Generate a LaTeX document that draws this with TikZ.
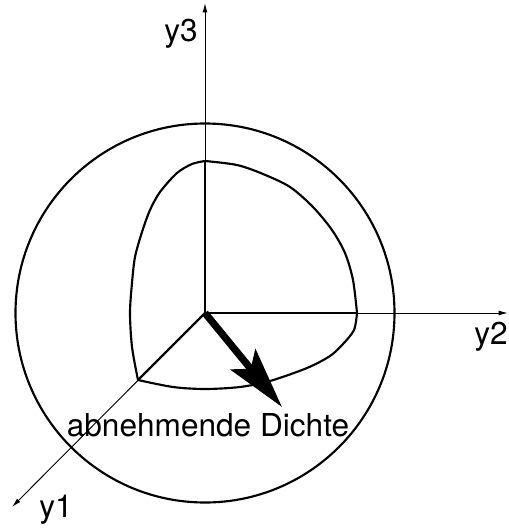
\documentclass[tikz,border=0pt]{standalone}
\usepackage{fontspec}
\setmainfont{TeX Gyre Heros}
\usetikzlibrary{arrows.meta}

\begin{document}
\begin{tikzpicture}[x=.75pt,y=-.75pt,>={Latex[length=7pt,width=3.6pt]},font=\fontsize{23.7}{28}\selectfont,
  axisline/.style={line width=.7pt,->},
  shell/.style={line width=1.6pt},
  lbl/.style={inner sep=0pt}]
\useasboundingbox (0,0) rectangle (508,529);
\coordinate (o) at (205,313);
\coordinate (e1) at (12,507);
\coordinate (e2) at (508,313);
\coordinate (e3) at (205,3);
\coordinate (i1) at (138,380);
\coordinate (i2) at (357,313);
\coordinate (i3) at (205,161);
\coordinate (tip) at (282,407);
% axes
\draw[axisline] (o) -- (e1);
\draw[axisline] (o) -- (e2);
\draw[axisline] (o) -- (e3);
\draw[shell] (o) -- (i1);
\draw[shell] (o) -- (i2);
\draw[shell] (o) -- (i3);
% outer sphere and inner octant
\draw[shell] (o) circle (189.5);
\draw[shell,line join=round] plot[smooth,tension=.5] coordinates {(i3) (237,165) (263,174) (290,187) (313,207) (332,230) (345,253) (353,280) (i2)};
\draw[shell,line join=round] plot[smooth,tension=.5] coordinates {(i2) (354,330) (343,344) (330,356) (307,368) (270,381) (240,387) (205,389) (173,387) (i1)};
\draw[shell,line join=round] plot[smooth,tension=.5] coordinates {(i1) (132,347) (130,313) (132,283) (135,257) (142,232) (150,210) (160,192) (177,173) (192,164) (i3)};
% density arrow
\draw[line width=5.4pt,-{Stealth[length=46pt,width=24pt,inset=9pt]}] (o) -- (tip);
\node[lbl] (ly3) at (181,34) {y3};
\node[lbl] (ly2) at (491,337) {y2};
\node[lbl] (ly1) at (56,510) {y1};
\node[lbl] (ldichte) at (208,425) {abnehmende Dichte};
\end{tikzpicture}
\end{document}
